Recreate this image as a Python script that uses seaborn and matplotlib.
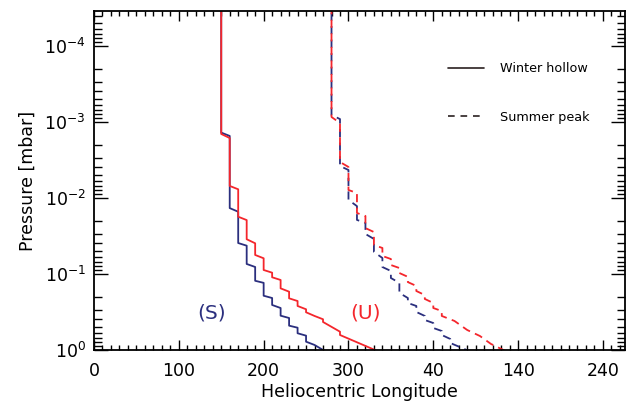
import numpy as np
import pandas as pd
import matplotlib
matplotlib.use("Agg")
import matplotlib.pyplot as plt
import seaborn as sns
from matplotlib.ticker import FixedLocator, FixedFormatter, MultipleLocator, LogLocator, NullFormatter
from matplotlib.lines import Line2D

# ---- data: (longitude, pressure [mbar]) vertices of each staircase profile ----
winter_S_lon = [150, 150, 160, 160, 170, 170, 180, 180, 190, 190, 200, 200, 210, 210,
                220, 220, 230, 230, 240, 240, 250, 250, 260, 272]
winter_S_p = [1e-5, 1.39e-3, 1.54e-3, 1.37e-2, 1.53e-2, 3.95e-2, 4.28e-2, 7.45e-2, 8.16e-2,
              0.124, 0.132, 0.195, 0.209, 0.258, 0.283, 0.357, 0.383, 0.483, 0.514, 0.608,
              0.654, 0.785, 0.867, 1.04]

winter_U_lon = [150, 150, 160, 160, 170, 170, 180, 180, 190, 190, 200, 200, 210, 210,
                220, 220, 230, 230, 240, 240, 250, 250, 260, 270, 270, 290, 290, 333]
winter_U_p = [1e-5, 1.45e-3, 1.64e-3, 7.0e-3, 7.75e-3, 1.78e-2, 1.97e-2, 3.52e-2, 3.98e-2,
              5.67e-2, 6.27e-2, 8.94e-2, 9.7e-2, 0.1115, 0.121, 0.156, 0.1725, 0.211, 0.229,
              0.266, 0.294, 0.322, 0.360, 0.398, 0.432, 0.580, 0.641, 1.03]

summer_S_lon = [280, 280, 290, 290, 300, 300, 310, 310, 320, 320, 330, 330, 340, 340, 350, 350,
                360, 360, 370, 370, 380, 380, 390, 390, 400, 400, 410, 410, 420, 420, 442]
summer_S_p = [1e-5, 8.16e-4, 9.23e-4, 3.83e-3, 4.32e-3, 1.07e-2, 1.29e-2, 1.96e-2, 2.15e-2,
              3.0e-2, 3.49e-2, 5.18e-2, 6.21e-2, 8.17e-2, 9.21e-2, 0.114, 0.132, 0.179, 0.209,
              0.243, 0.266, 0.319, 0.360, 0.407, 0.446, 0.518, 0.568, 0.641, 0.723, 0.816, 1.04]

summer_U_lon = [280, 280, 290, 290, 300, 300, 310, 310, 320, 320, 330, 330, 340, 340, 350, 350,
                360, 360, 370, 370, 380, 380, 390, 390, 400, 400, 410, 410, 425, 440, 455, 468, 485]
summer_U_p = [1e-5, 8.67e-4, 1.04e-3, 3.39e-3, 3.94e-3, 7.92e-3, 8.68e-3, 1.59e-2, 1.74e-2,
              2.51e-2, 2.83e-2, 4.19e-2, 4.59e-2, 5.85e-2, 6.41e-2, 7.69e-2, 8.42e-2, 9.8e-2,
              0.110, 0.129, 0.145, 0.169, 0.191, 0.215, 0.243, 0.283, 0.310, 0.360, 0.419,
              0.551, 0.661, 0.841, 1.04]

x_tick_pos = [0, 100, 200, 300, 400, 500, 600]
x_tick_labels = ["0", "100", "200", "300", "40", "140", "240"]
legend_labels = ["Winter hollow", "Summer peak"]

BLUE = "#2b2f7e"
RED = "#f4262c"

sns.set_theme(style="ticks")
plt.rcParams['font.family'] = ['DejaVu Sans']
plt.rcParams['mathtext.default'] = 'regular'
plt.rcParams['text.color'] = 'black'
plt.rcParams['axes.labelcolor'] = 'black'
plt.rcParams['xtick.color'] = 'black'
plt.rcParams['ytick.color'] = 'black'

fig = plt.figure(figsize=(6.29, 4.09), dpi=100)
ax = fig.add_axes([94 / 629, 59 / 409, (625 - 94) / 629, 339 / 409])
ax.set_yscale('log')

def draw(lon, p, color, ls):
    df = pd.DataFrame({"lon": lon, "p": p})
    sns.lineplot(data=df, x="lon", y="p", sort=False, estimator=None, color=color,
                 linewidth=1.3, linestyle=ls, ax=ax)

draw(summer_S_lon, summer_S_p, BLUE, (0, (4.5, 3)))
draw(summer_U_lon, summer_U_p, RED, (3.5, (4.5, 3)))
draw(winter_S_lon, winter_S_p, BLUE, "-")
draw(winter_U_lon, winter_U_p, RED, "-")

ax.set_xlim(0, 626)
ax.set_ylim(1.01, 3.49e-5)

ax.xaxis.set_major_locator(FixedLocator(x_tick_pos))
ax.xaxis.set_major_formatter(FixedFormatter(x_tick_labels))
ax.xaxis.set_minor_locator(MultipleLocator(10))
ax.yaxis.set_major_locator(LogLocator(base=10, numticks=20))
ax.yaxis.set_minor_locator(LogLocator(base=10, subs=np.arange(2, 10), numticks=50))
ax.yaxis.set_minor_formatter(NullFormatter())

ax.tick_params(which='both', direction='in', top=True, right=True, color='black', width=1.0,
               labelcolor='black')
ax.tick_params(axis='x', which='major', length=7, pad=9, labelsize=12.5)
ax.tick_params(axis='x', which='minor', length=3.5)
ax.tick_params(axis='y', which='major', length=10, pad=6, labelsize=12.5)
ax.tick_params(axis='y', which='minor', length=6)
for s in ax.spines.values():
    s.set_linewidth(1.3)
    s.set_color('black')

ax.set_xlabel("Heliocentric Longitude", fontsize=12.5, labelpad=2, color='black')
ax.set_ylabel("Pressure [mbar]", fontsize=12.5, labelpad=5, color='black')

ax.text(138.5, 0.33, "(S)", color=BLUE, fontsize=14.5, ha='center', va='center')
ax.text(320.5, 0.33, "(U)", color=RED, fontsize=14.5, ha='center', va='center')

handles = [Line2D([], [], color='#2a2020', lw=1.2, ls='-'),
           Line2D([], [], color='#2a2020', lw=1.2, ls=(0, (4, 3.5)))]
leg = ax.legend(handles, legend_labels, loc='upper left', bbox_to_anchor=(448 / 629, 1 - 62 / 409),
                bbox_transform=fig.transFigure, frameon=False, fontsize=9.2, handlelength=2.8,
                handletextpad=1.3, labelspacing=2.8, borderpad=0, borderaxespad=0)
for t in leg.get_texts():
    t.set_color('black')

fig.savefig("out.png", dpi=100)
